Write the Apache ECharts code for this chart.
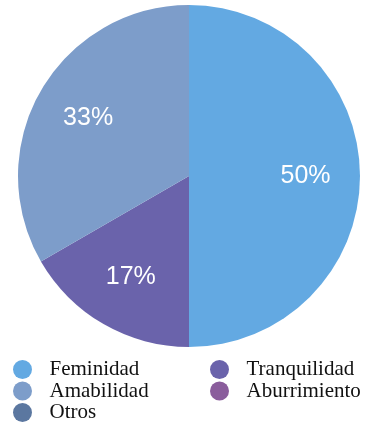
<!DOCTYPE html>
<html>
<head>
<meta charset="utf-8">
<script src="https://cdn.jsdelivr.net/npm/echarts@6/dist/echarts.min.js"></script>
<style>
  html, body { margin: 0; padding: 0; background: #ffffff; }
  #chart { width: 367px; height: 426px; }
</style>
</head>
<body>
<div id="chart"></div>
<script>
// Answer counts per mood
const categories = ['Feminidad', 'Tranquilidad', 'Amabilidad', 'Aburrimiento', 'Otros'];
const counts = [3, 1, 2, 0, 0];
const colors = ['#63a9e2', '#6a63ab', '#7d9dca', '#8a5d9c', '#5b77a0'];

// Legend columns
const legendLeft = ['Feminidad', 'Amabilidad', 'Otros'];
const legendRight = ['Tranquilidad', 'Aburrimiento'];

const pieData = categories.map((name, i) => ({
  name: name,
  value: counts[i],
  itemStyle: { color: colors[i] }
}));

const center = [189, 176];

const legendBase = {
  orient: 'vertical',
  top: 359,
  height: 67,
  padding: 0,
  icon: 'circle',
  itemWidth: 44,
  itemHeight: 19,
  itemGap: 0.5,
  selectedMode: false,
  textStyle: {
    fontFamily: '"Liberation Serif", "Times New Roman", serif',
    fontSize: 21,
    lineHeight: 21,
    color: '#111111'
  }
};

const chart = echarts.init(document.getElementById('chart'), null, { renderer: 'canvas' });
chart.setOption({
  animation: false,
  color: colors,
  legend: [
    Object.assign({}, legendBase, { left: 13, data: legendLeft }),
    Object.assign({}, legendBase, { left: 210, data: legendRight })
  ],
  series: [
    {
      type: 'pie',
      center: center,
      radius: [0, 171],
      startAngle: 90,
      clockwise: true,
      minAngle: 0,
      percentPrecision: 0,
      silent: true,
      label: { show: false },
      labelLine: { show: false },
      data: pieData
    },
    {
      // transparent ring that carries the percentage labels
      type: 'pie',
      center: center,
      radius: [56, 171],
      startAngle: 90,
      clockwise: true,
      percentPrecision: 0,
      silent: true,
      itemStyle: { color: 'rgba(0,0,0,0)' },
      label: {
        show: true,
        position: 'inside',
        formatter: p => (p.value > 0 ? p.percent + '%' : ''),
        color: '#ffffff',
        fontFamily: '"Liberation Sans", Arial, sans-serif',
        fontSize: 25,
        fontWeight: 'normal'
      },
      labelLine: { show: false },
      data: categories.map((name, i) => ({ name: name, value: counts[i] }))
    }
  ]
});
</script>
</body>
</html>
